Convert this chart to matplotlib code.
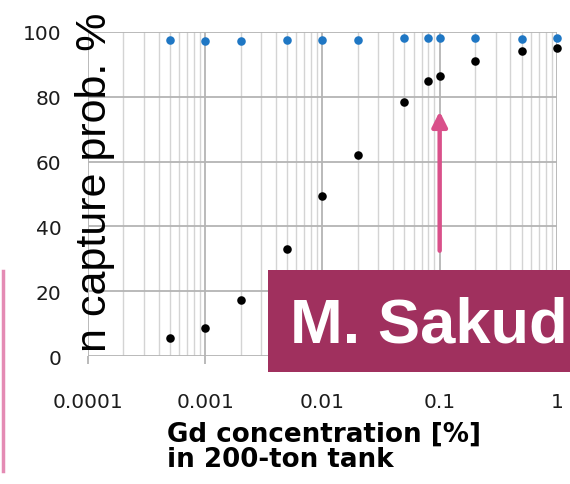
import matplotlib.pyplot as plt
from matplotlib.patches import Rectangle
from matplotlib.lines import Line2D
from matplotlib.ticker import LogLocator, NullFormatter

# Gd concentration [%] and neutron capture probability [%]
gd_conc = [0.0005, 0.001, 0.002, 0.005, 0.01, 0.02, 0.05, 0.08, 0.1, 0.2, 0.5, 1.0]
capture_gd = [5.6, 8.6, 17.3, 33.0, 49.4, 62.1, 78.4, 84.9, 86.4, 91.0, 94.1, 95.1]
capture_total = [97.6, 97.3, 97.3, 97.6, 97.5, 97.5, 98.1, 98.1, 98.1, 98.1, 97.8, 98.1]

x_ticks = [0.0001, 0.001, 0.01, 0.1, 1]
x_labels = ["0.0001", "0.001", "0.01", "0.1", "1"]
y_ticks = [0, 20, 40, 60, 80, 100]

fig = plt.figure(figsize=(5.7, 4.85), dpi=100)
ax = fig.add_axes([0.1544, 0.2639, 0.8226, 0.6681])

ax.set_xscale("log")
ax.set_xlim(1e-4, 1)
ax.set_ylim(0, 100)

ax.scatter(gd_conc, capture_total, s=38, color="#1f77c4", zorder=3, clip_on=False, linewidths=0)
ax.scatter(gd_conc, capture_gd, s=38, color="black", zorder=3, clip_on=False, linewidths=0)

for side in ["top", "right", "bottom", "left"]:
    ax.spines[side].set_visible(False)

ax.set_xticks(x_ticks)
ax.set_xticklabels(x_labels)
ax.xaxis.set_minor_locator(LogLocator(base=10, subs=range(2, 10)))
ax.xaxis.set_minor_formatter(NullFormatter())
ax.set_yticks(y_ticks)

ax.grid(True, which="major", axis="both", color="#b4b4b4", linewidth=1.3)
ax.grid(True, which="minor", axis="x", color="#d4d4d4", linewidth=1.0)
ax.set_axisbelow(True)

ax.tick_params(axis="x", which="major", length=6, width=1.3, color="#b4b4b4",
               pad=20, labelcolor="#1c1c1c", labelsize=14.5)
ax.tick_params(axis="x", which="minor", length=0)
ax.tick_params(axis="y", length=0, pad=19, labelcolor="#1c1c1c", labelsize=14.5)
for lab in ax.get_xticklabels() + ax.get_yticklabels():
    lab.set_family("DejaVu Sans")

# axis titles
fig.text(0.166, 0.624, "n capture prob. %", rotation=90, ha="center", va="center",
         family="Liberation Sans", fontsize=31, color="black")
fig.text(0.293, 0.078, "Gd concentration [%]\nin 200-ton tank", ha="left", va="center",
         family="DejaVu Sans", fontweight="bold", fontsize=18.8, color="black",
         linespacing=0.98)

# arrow pointing at 0.1 %
ax.annotate("", xy=(0.1, 75.5), xytext=(0.1, 32.5),
            arrowprops=dict(arrowstyle="-|>,head_length=0.9,head_width=0.45",
                            color="#d9508a", lw=3.2, shrinkA=0, shrinkB=0))

# name banner
fig.add_artist(Rectangle((268 / 570, 1 - 373 / 485), 302 / 570, 102 / 485,
                         transform=fig.transFigure, facecolor="#a0305e",
                         edgecolor="none", zorder=5))
fig.text(290 / 570, 1 - 326 / 485, "M. Sakud", ha="left", va="center",
         family="Liberation Sans", fontweight="bold", fontsize=45.5,
         color="white", zorder=6)

# edge of neighbouring box
fig.add_artist(Line2D([2.5 / 570, 2.5 / 570], [1 - 272 / 485, 1 - 472 / 485],
                      transform=fig.transFigure, color="#e48bb4", linewidth=2.5))

fig.savefig("out.png", dpi=100)
